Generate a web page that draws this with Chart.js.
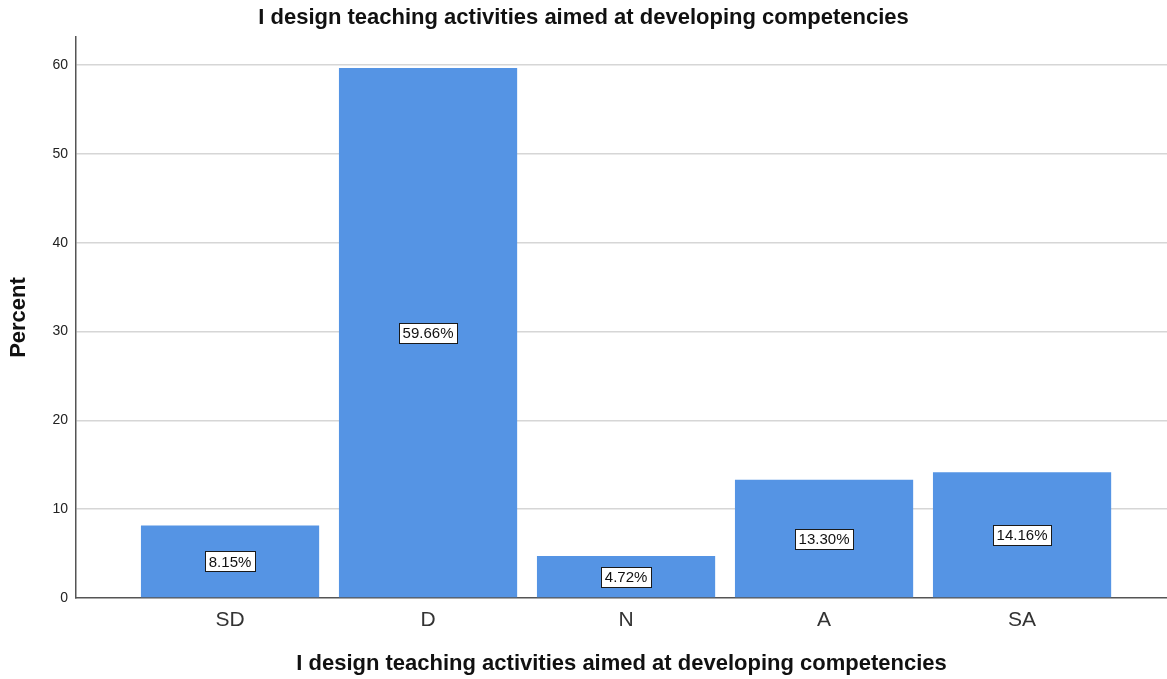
<!DOCTYPE html>
<html>
<head>
<meta charset="utf-8">
<script src="https://cdn.jsdelivr.net/npm/chart.js@4/dist/chart.umd.min.js"></script>
<style>
  html, body { margin: 0; padding: 0; background: #fff; }
  #wrap { width: 1167px; height: 679px; }
</style>
</head>
<body>
<div id="wrap"><canvas id="barChart"></canvas></div>
<script>
var categories = ['SD', 'D', 'N', 'A', 'SA'];
var percents   = [8.15, 59.66, 4.72, 13.30, 14.16];
var yTicks     = [0, 10, 20, 30, 40, 50, 60];
var titleText  = 'I design teaching activities aimed at developing competencies';

var FONT = '"Liberation Sans", Arial, sans-serif';

// value label boxes in the middle of each bar
var boxLabels = {
  id: 'boxLabels',
  afterDatasetsDraw: function(c) {
    var ctx = c.ctx;
    var meta = c.getDatasetMeta(0);
    ctx.save();
    ctx.font = '15px ' + FONT;
    ctx.textAlign = 'center';
    ctx.textBaseline = 'middle';
    meta.data.forEach(function(bar, i) {
      var txt = percents[i].toFixed(2) + '%';
      var w = ctx.measureText(txt).width + 7;
      var h = 20;
      var cx = bar.x, cy = (bar.y + bar.base) / 2;
      ctx.fillStyle = '#ffffff';
      ctx.fillRect(Math.round(cx - w / 2), Math.round(cy - h / 2), Math.round(w), h);
      ctx.lineWidth = 1;
      ctx.strokeStyle = '#1a1a1a';
      ctx.strokeRect(Math.round(cx - w / 2) + 0.5, Math.round(cy - h / 2) + 0.5, Math.round(w), h);
      ctx.fillStyle = '#111';
      ctx.fillText(txt, cx, cy + 1);
    });
    ctx.restore();
  }
};

var points = percents.map(function(v, i) { return {x: i, y: v}; });

new Chart(document.getElementById('barChart'), {
  type: 'bar',
  data: {
    datasets: [{
      label: 'Percent',
      data: points,
      backgroundColor: '#5594e4',
      borderWidth: 0,
      barPercentage: 0.9,
      categoryPercentage: 1
    }]
  },
  plugins: [boxLabels],
  options: {
    responsive: true, maintainAspectRatio: false, animation: false,
    layout: { padding: { left: 0, right: 0, top: 0, bottom: 0 } },
    plugins: {
      legend: { display: false },
      tooltip: { enabled: false },
      title: {
        display: true, text: titleText, color: '#111',
        font: { family: FONT, size: 22, weight: 'bold' },
        padding: { top: 5, bottom: 5.6 }
      }
    },
    scales: {
      x: {
        type: 'linear', min: -0.778, max: 4.732, offset: false,
        grid: { display: false, drawTicks: false, offset: false },
        border: { display: true, color: '#555', width: 1.5 },
        ticks: {
          stepSize: 1, padding: 10, color: '#333', autoSkip: false,
          font: { family: FONT, size: 21 },
          callback: function(v) { return categories[v]; }
        },
        afterBuildTicks: function(s) {
          s.ticks = s.ticks.filter(function(t) { return Number.isInteger(t.value) && t.value >= 0 && t.value < categories.length; });
        },
        title: {
          display: true, text: titleText, color: '#111',
          font: { family: FONT, size: 22, weight: 'bold' },
          padding: { top: 0, bottom: 2 }
        },
        afterFit: function(s) { s.height = 81; }
      },
      y: {
        min: 0, max: 63.15,
        grid: {
          drawTicks: false, lineWidth: 1.5,
          color: function(ctx) { return ctx.tick && ctx.tick.value === 0 ? 'rgba(0,0,0,0)' : '#d6d6d6'; }
        },
        border: { display: true, color: '#555', width: 1.5 },
        ticks: {
          stepSize: 10, padding: 8, color: '#222',
          font: { family: FONT, size: 14 }
        },
        afterBuildTicks: function(s) {
          s.ticks = yTicks.map(function(v) { return {value: v}; });
        },
        title: {
          display: true, text: 'Percent', color: '#111',
          font: { family: FONT, size: 22, weight: 'bold' },
          padding: { top: 6, bottom: 0 }
        },
        afterFit: function(s) { s.width = 76; }
      }
    }
  }
});
</script>
</body>
</html>
